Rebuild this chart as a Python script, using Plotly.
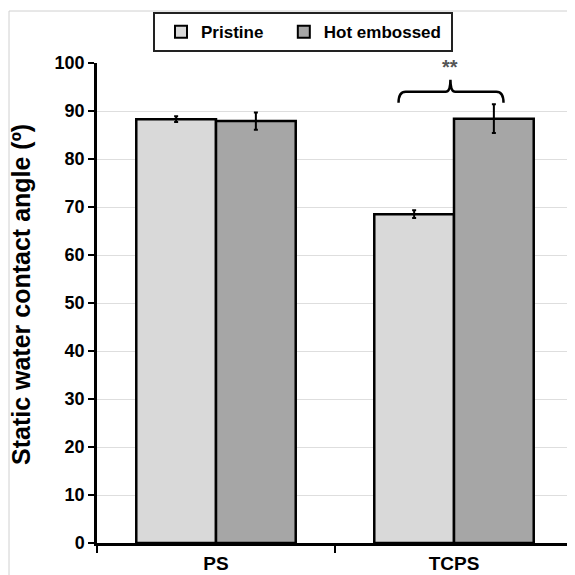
import plotly.graph_objects as go

categories = ["PS", "TCPS"]
pristine = [88.3, 68.5]
pristine_err = [0.6, 0.8]
embossed = [87.9, 88.4]
embossed_err = [1.8, 3.0]
series_names = ["Pristine", "Hot embossed"]
y_ticks = [0, 10, 20, 30, 40, 50, 60, 70, 80, 90, 100]
y_title = "Static water contact angle (º)"

# the page body adds an 8px offset, so the figure is 567x567
W, H = 567, 567
L, R, T, B = 89, 2, 55, 32
pw, ph = W - L - R, H - T - B

fig = go.Figure()
fig.add_trace(go.Bar(
    x=categories, y=pristine, name=series_names[0] + "\u00a0\u00a0",
    marker=dict(color="#d9d9d9", line=dict(color="black", width=2.5)),
    error_y=dict(type="data", array=pristine_err, color="black", thickness=2, width=2),
))
fig.add_trace(go.Bar(
    x=categories, y=embossed, name=series_names[1] + "\u00a0",
    marker=dict(color="#a6a6a6", line=dict(color="black", width=2.5)),
    error_y=dict(type="data", array=embossed_err, color="black", thickness=2, width=2),
))

# significance bracket over TCPS
x0, x1, xc = 0.767, 1.208, 0.985
yb, ye, ys = 94.0, 91.7, 96.5
fig.add_shape(type="path", xref="x", yref="y",
              path=f"M {x0} {ye} Q {x0} {yb} {x0+0.03} {yb} L {xc-0.02} {yb} Q {xc} {yb} {xc} {ys} "
                   f"Q {xc} {yb} {xc+0.02} {yb} L {x1-0.03} {yb} Q {x1} {yb} {x1} {ye}",
              line=dict(color="black", width=2.5))
fig.add_annotation(x=xc, y=99.2, xref="x", yref="y", text="**", showarrow=False,
                   font=dict(size=20, color="#555", family="Arial", weight="bold"))

# y-axis title as rotated annotation
fig.add_annotation(x=(13 - L) / pw, y=(H - B - 287) / ph, xref="paper", yref="paper",
                   xanchor="center", yanchor="middle",
                   text=y_title, textangle=-90, showarrow=False,
                   font=dict(size=25, family="Arial", weight="bold", color="black"))

# faint image frame (left and top)
fx = (1 - L) / pw
fy = 1 + (T - 3) / ph
fig.add_shape(type="line", xref="paper", yref="paper", x0=fx, x1=fx, y0=-0.2, y1=fy,
              line=dict(color="#d0d0d0", width=1))
fig.add_shape(type="line", xref="paper", yref="paper", x0=fx, x1=1.1, y0=fy, y1=fy,
              line=dict(color="#d0d0d0", width=1))

fig.update_layout(
    width=W, height=H,
    margin=dict(l=L, r=R, t=T, b=B, autoexpand=False),
    paper_bgcolor="white", plot_bgcolor="white",
    barmode="group", bargap=0.33, bargroupgap=0,
    font=dict(family="Arial", size=17, color="black", weight="bold"),
    legend=dict(orientation="h", x=(153 - 8 - L) / pw, xanchor="left", y=1.106, yanchor="top",
                bordercolor="#222", borderwidth=2, font=dict(size=17, weight="bold"),
                bgcolor="white", itemsizing="constant", indentation=6),
    showlegend=True,
)
fig.update_xaxes(showline=True, linecolor="black", linewidth=2.5, ticks="outside",
                 tickson="boundaries", ticklen=7, tickwidth=2, tickcolor="black",
                 tickfont=dict(size=19, weight="bold"), showgrid=False, automargin=False,
                 ticklabelstandoff=1)
fig.update_yaxes(range=[0, 100], tickvals=y_ticks, showline=True, linecolor="black",
                 linewidth=2.5, ticks="outside", ticklen=6, tickwidth=2, tickcolor="black",
                 showgrid=True, gridcolor="#dedede", gridwidth=1, automargin=False,
                 tickfont=dict(size=18, weight="bold"), zeroline=False)

fig.write_html("out.html")
